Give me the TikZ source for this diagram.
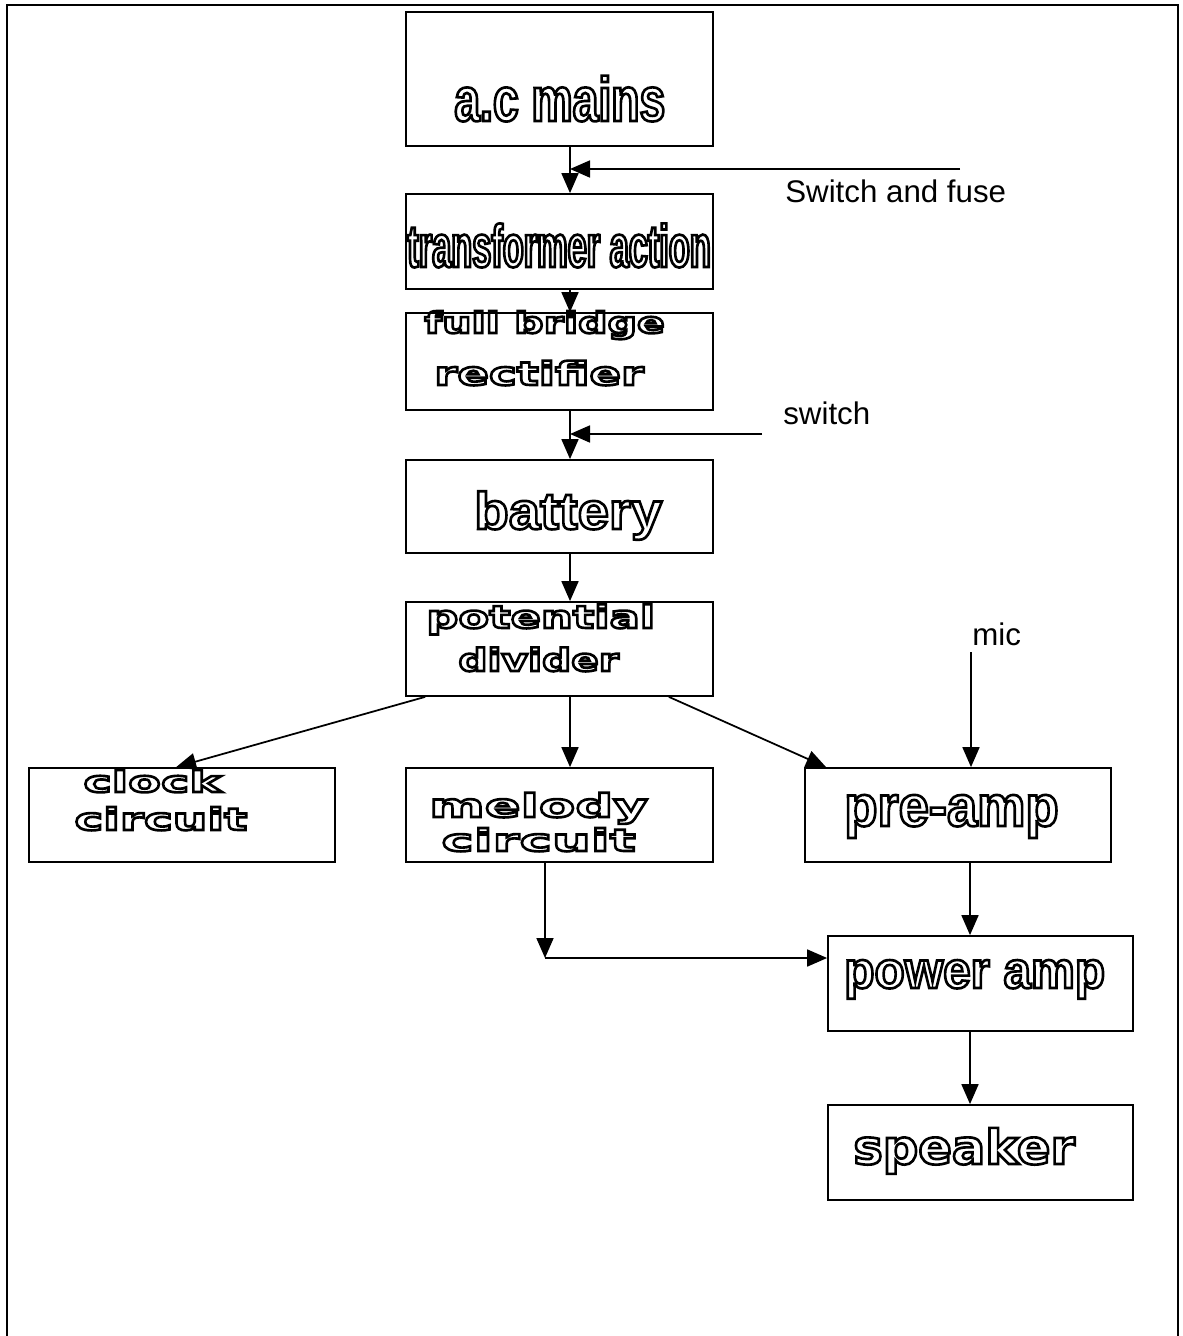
\documentclass[tikz,border=0pt]{standalone}
\usepackage{fontspec}
\setmainfont{Liberation Sans}
\usetikzlibrary{arrows.meta,fit}
% outlined (stroked) text: family, size in pt, horizontal stretch, text
\newcommand\ot[4]{{\fontspec{#1}[FakeStretch=#3]\bfseries\fontsize{#2}{#2}\selectfont
  \special{pdf:literal direct 1 Tr 1.5 w}#4\special{pdf:literal direct 0 Tr}}}
\begin{document}
\begin{tikzpicture}[x=0.02cm,y=-0.02cm,
  frame/.style={line width=1.2pt},
  box/.style={draw,line width=1pt,inner sep=0pt},
  arr/.style={line width=1pt,-{Triangle[length=0.4cm,width=0.34cm]}},
  lbl/.style={anchor=base west,inner sep=0pt},
  plain/.style={anchor=base west,inner sep=0pt,font=\fontsize{17.8}{20}\selectfont}]
\useasboundingbox (0,0) rectangle (1183,1336);
\draw[frame] (7,1336) -- (7,5) -- (1178,5) -- (1178,1336);
% boxes
\node[box,fit={(406,12) (713,146)}] (ac) {};
\node[box,fit={(406,194) (713,289)}] (tr) {};
\node[box,fit={(406,313) (713,410)}] (fb) {};
\node[box,fit={(406,460) (713,553)}] (bat) {};
\node[box,fit={(406,602) (713,696)}] (pd) {};
\node[box,fit={(29,768) (335,862)}] (clk) {};
\node[box,fit={(406,768) (713,862)}] (mel) {};
\node[box,fit={(805,768) (1111,862)}] (pre) {};
\node[box,fit={(828,936) (1133,1031)}] (pa) {};
\node[box,fit={(828,1105) (1133,1200)}] (spk) {};
% texts
\node[lbl] (t1) at (454,121) {\ot{Liberation Sans}{35.6}{0.74}{a.c mains}};
\node[lbl] (t2) at (407,267) {\ot{Liberation Sans}{34.3}{0.57}{transformer action}};
\node[lbl] (t3a) at (424,333) {\ot{DejaVu Sans}{16.5}{1.42}{full bridge}};
\node[lbl] (t3b) at (434,385) {\ot{DejaVu Sans}{18.3}{1.45}{rectifier}};
\node[lbl] (t4) at (474,529) {\ot{Liberation Sans}{29.7}{1.08}{battery}};
\node[lbl] (t5a) at (426,628) {\ot{DejaVu Sans}{17.7}{1.44}{potential}};
\node[lbl] (t5b) at (458,671) {\ot{DejaVu Sans}{17.7}{1.31}{divider}};
\node[lbl] (t6a) at (83,792) {\ot{DejaVu Sans}{16.5}{1.65}{clock}};
\node[lbl] (t6b) at (74,830) {\ot{DejaVu Sans}{17.2}{1.61}{circuit}};
\node[lbl] (t7a) at (429,817) {\ot{DejaVu Sans}{18.2}{1.66}{melody}};
\node[lbl] (t7b) at (441,851) {\ot{DejaVu Sans}{17.2}{1.81}{circuit}};
\node[lbl] (t8) at (844,826) {\ot{Liberation Sans}{32.9}{0.94}{pre-amp}};
\node[lbl] (t9) at (844,988) {\ot{Liberation Sans}{29.6}{0.95}{power amp}};
\node[lbl] (t10) at (853,1164) {\ot{DejaVu Sans}{27.1}{1.04}{speaker}};
\node[plain] (sfl) at (785,202) {Switch and fuse};
\node[plain] (swl) at (783,424) {switch};
\node[plain] (mic) at (972,645) {mic};
% connectors
\coordinate (cx) at (570,0);
\draw[arr] (ac.south -| cx) -- (tr.north -| cx);
\draw[arr] (tr.south -| cx) -- (fb.north -| cx);
\draw[arr] (fb.south -| cx) -- (bat.north -| cx);
\draw[arr] (bat.south -| cx) -- (pd.north -| cx);
\draw[arr] (pd.south -| cx) -- (mel.north -| cx);
\coordinate (sf) at (960,169);
\draw[arr] (sf) -- (sf -| cx);
\coordinate (sw) at (762,434);
\draw[arr] (sw) -- (sw -| cx);
\draw[arr] ([xshift=0.4cm]pd.south west) -- ([xshift=2.96cm]clk.north west);
\draw[arr] ([xshift=-0.9cm]pd.south east) -- ([xshift=0.44cm]pre.north west);
\coordinate (ml) at (971,652);
\draw[arr] (ml) -- (ml |- pre.north);
\coordinate (rx) at (970,0);
\draw[arr] (pre.south -| rx) -- (pa.north -| rx);
\draw[arr] (pa.south -| rx) -- (spk.north -| rx);
\coordinate (mc) at (545,958);
\draw[arr] (mel.south -| mc) -- (mc);
\draw[arr] (mc) -- (mc -| pa.west);
\end{tikzpicture}
\end{document}
